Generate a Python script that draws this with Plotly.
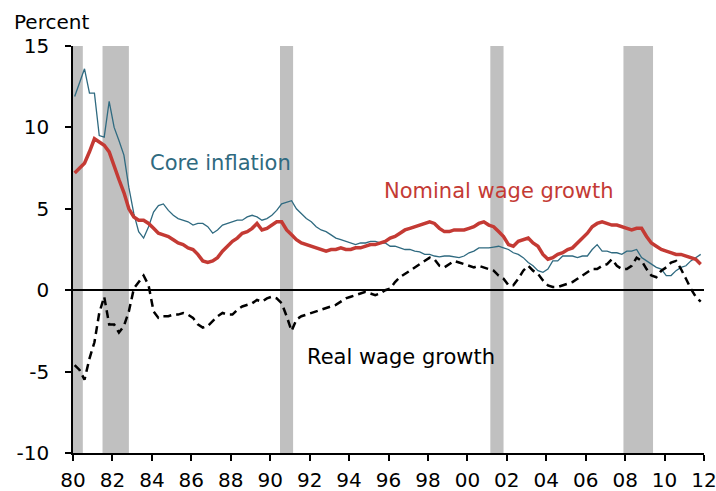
import pandas as pd
import plotly.graph_objects as go

# Quarterly readings (mid-quarter), 1980Q1 .. 2011Q4
dates = pd.date_range("1980-02-01", periods=128, freq="3MS")

core_inflation = [
    11.9, 12.8, 13.6, 12.1,
    12.1, 9.5, 9.4, 11.6,
    10.0, 9.2, 8.3, 6.3,
    4.7, 3.6, 3.2, 3.9,
    4.8, 5.2, 5.3, 4.9,
    4.6, 4.4, 4.3, 4.2,
    4.0, 4.1, 4.1, 3.9,
    3.5, 3.7, 4.0, 4.1,
    4.2, 4.3, 4.3, 4.5,
    4.6, 4.5, 4.3, 4.4,
    4.6, 4.9, 5.3, 5.4,
    5.5, 5.0, 4.7, 4.4,
    4.2, 3.9, 3.7, 3.6,
    3.4, 3.2, 3.1, 3.0,
    2.9, 2.8, 2.9, 2.9,
    3.0, 3.0, 2.9, 2.9,
    2.7, 2.7, 2.6, 2.5,
    2.5, 2.4, 2.35, 2.2,
    2.2, 2.1, 2.05, 2.1,
    2.1, 2.05, 2.0, 2.1,
    2.3, 2.4, 2.6, 2.6,
    2.6, 2.65, 2.7, 2.6,
    2.5, 2.3, 2.2, 2.0,
    1.7, 1.5, 1.2, 1.1,
    1.3, 1.8, 1.8, 2.1,
    2.1, 2.1, 2.0, 2.1,
    2.1, 2.5, 2.8, 2.4,
    2.4, 2.3, 2.3, 2.2,
    2.4, 2.4, 2.5, 2.0,
    1.8, 1.6, 1.4, 1.3,
    0.9, 0.9, 1.2, 1.4,
    1.5, 1.8, 2.0, 2.2,
]

nominal_wage_growth = [
    7.2, 7.5, 7.8, 8.5,
    9.3, 9.1, 8.9, 8.5,
    7.6, 6.8, 6.0, 5.0,
    4.5, 4.3, 4.3, 4.1,
    3.8, 3.5, 3.4, 3.3,
    3.1, 2.9, 2.8, 2.6,
    2.5, 2.2, 1.8, 1.7,
    1.8, 2.0, 2.4, 2.7,
    3.0, 3.2, 3.5, 3.6,
    3.8, 4.1, 3.7, 3.8,
    4.0, 4.2, 4.2, 3.7,
    3.4, 3.1, 2.9, 2.8,
    2.7, 2.6, 2.5, 2.4,
    2.5, 2.5, 2.6, 2.5,
    2.5, 2.6, 2.6, 2.7,
    2.8, 2.8, 2.9, 3.0,
    3.2, 3.3, 3.5, 3.7,
    3.8, 3.9, 4.0, 4.1,
    4.2, 4.1, 3.8, 3.6,
    3.6, 3.7, 3.7, 3.7,
    3.8, 3.9, 4.1, 4.2,
    4.0, 3.9, 3.6, 3.3,
    2.8, 2.7, 3.0, 3.1,
    3.2, 2.9, 2.7, 2.2,
    1.9, 2.0, 2.2, 2.3,
    2.5, 2.6, 2.9, 3.2,
    3.5, 3.9, 4.1, 4.2,
    4.1, 4.0, 4.0, 3.9,
    3.8, 3.7, 3.8, 3.8,
    3.3, 2.9, 2.7, 2.5,
    2.4, 2.3, 2.2, 2.2,
    2.1, 2.0, 1.9, 1.6,
]

real_wage_growth = [
    -4.6, -4.9, -5.5, -4.2,
    -3.2, -1.4, -0.4, -2.1,
    -2.1, -2.6, -2.2, -1.3,
    0.1, 0.5, 0.9, 0.3,
    -1.3, -1.7, -1.6, -1.6,
    -1.5, -1.5, -1.4, -1.5,
    -1.7, -2.1, -2.3, -2.2,
    -1.9, -1.6, -1.4, -1.5,
    -1.5, -1.2, -1.0, -0.9,
    -0.8, -0.6, -0.7, -0.5,
    -0.4, -0.5, -0.8, -1.6,
    -2.5, -1.8, -1.6, -1.5,
    -1.4, -1.3, -1.2, -1.1,
    -1.0, -0.9, -0.7, -0.5,
    -0.4, -0.3, -0.2, -0.1,
    -0.2, -0.3, -0.2, 0.0,
    0.1, 0.5, 0.8, 1.0,
    1.2, 1.4, 1.6, 1.8,
    2.0, 1.9, 1.5, 1.4,
    1.6, 1.8, 1.7, 1.6,
    1.5, 1.4, 1.5, 1.4,
    1.3, 1.2, 0.9, 0.7,
    0.3, 0.3, 0.7, 1.2,
    1.5, 1.2, 1.0, 0.6,
    0.3, 0.2, 0.2, 0.3,
    0.4, 0.5, 0.7, 0.9,
    1.1, 1.3, 1.3, 1.5,
    1.6, 1.9, 1.5, 1.3,
    1.3, 1.5, 2.0, 1.8,
    1.3, 0.9, 0.8, 1.2,
    1.4, 1.7, 1.8, 1.3,
    0.7, 0.1, -0.4, -0.7,
]

y_tick_values = [-10, -5, 0, 5, 10, 15]
y_tick_labels = ["-10", "-5", "0", "5", "10", "15"]

recessions = [
    ("1980-01-01", "1980-07-01"),
    ("1981-07-01", "1982-11-01"),
    ("1990-07-01", "1991-03-01"),
    ("2001-03-01", "2001-11-01"),
    ("2007-12-01", "2009-06-01"),
]

TEAL = "#2f6a80"
RED = "#c43a34"
FONT = "DejaVu Sans"

fig = go.Figure()
fig.add_trace(go.Scatter(x=dates, y=core_inflation, mode="lines",
                         line=dict(color=TEAL, width=1.3), name="Core inflation"))
fig.add_trace(go.Scatter(x=dates, y=nominal_wage_growth, mode="lines",
                         line=dict(color=RED, width=3.5), name="Nominal wage growth"))
fig.add_trace(go.Scatter(x=dates, y=real_wage_growth, mode="lines",
                         line=dict(color="black", width=2.5, dash="8px,5px"),
                         name="Real wage growth"))

for s, e in recessions:
    fig.add_shape(type="rect", xref="x", yref="paper", x0=s, x1=e, y0=0, y1=1,
                  fillcolor="#c0c0c0", line=dict(width=0), layer="below")

fig.add_annotation(x="1983-10-15", y=7.8, text="Core inflation", showarrow=False,
                   xanchor="left", yanchor="middle", font=dict(color=TEAL, size=21, family=FONT))
fig.add_annotation(x="1995-09-01", y=6.1, text="Nominal wage growth", showarrow=False,
                   xanchor="left", yanchor="middle", font=dict(color=RED, size=21, family=FONT))
fig.add_annotation(x="1991-10-01", y=-4.1, text="Real wage growth", showarrow=False,
                   xanchor="left", yanchor="middle", font=dict(color="black", size=21, family=FONT))
fig.add_annotation(xref="paper", yref="paper", x=-0.097, y=1.058, text="Percent",
                   showarrow=False, xanchor="left", yanchor="middle",
                   font=dict(color="black", size=20, family=FONT))

fig.update_layout(
    width=716, height=491,
    margin=dict(l=73, r=12, t=46, b=38, autoexpand=False),
    paper_bgcolor="white", plot_bgcolor="white",
    showlegend=False,
    font=dict(family=FONT, size=20, color="black"),
    xaxis=dict(
        type="date", range=["1980-01-01", "2012-01-01"],
        tickformat="%y", dtick="M24", tick0="1980-01-01",
        showgrid=False, showline=True, linecolor="black", linewidth=1.5,
        ticks="outside", ticklen=6, tickcolor="black", tickwidth=1.5,
        zeroline=False, tickfont=dict(size=20), automargin=False,
        ticklabelstandoff=2, ticklabeloverflow="allow",
    ),
    yaxis=dict(
        range=[-10, 15], tickmode="array", tickvals=y_tick_values, ticktext=y_tick_labels,
        showgrid=False, showline=True, linecolor="black", linewidth=1.5,
        ticks="outside", ticklen=6, tickcolor="black", tickwidth=1.5,
        zeroline=True, zerolinecolor="black", zerolinewidth=1.5,
        tickfont=dict(size=20), automargin=False, ticklabelstandoff=12,
        ticklabeloverflow="allow",
    ),
)

fig.write_html("out.html", config={"displayModeBar": False},
               post_script="document.body.style.margin='0';")
